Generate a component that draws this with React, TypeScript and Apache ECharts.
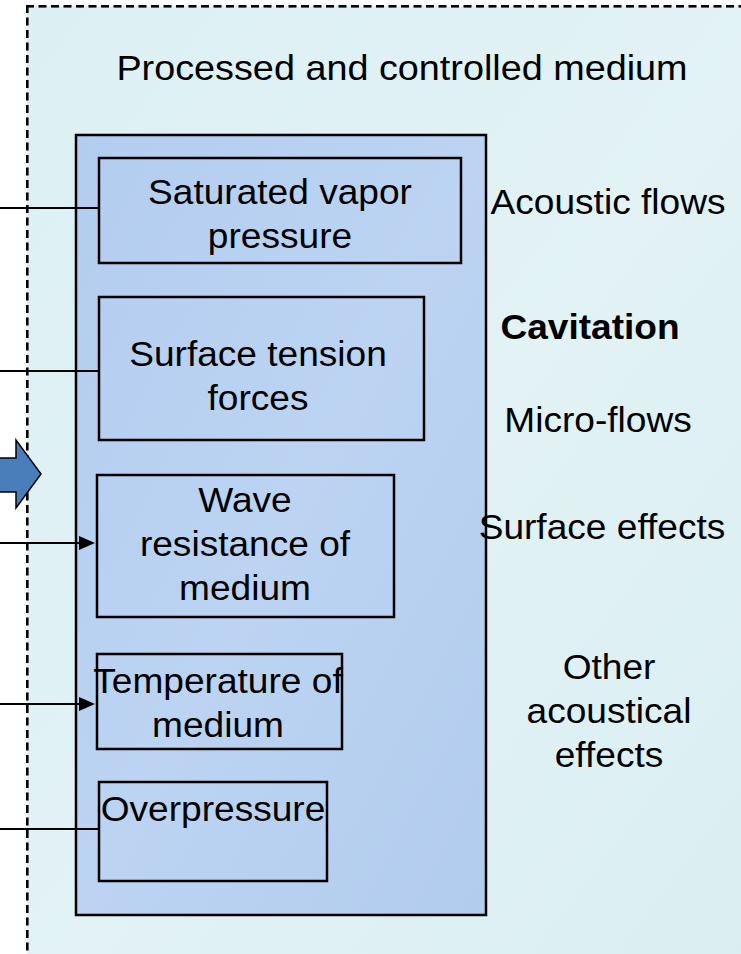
import React, { useEffect, useRef } from "react";
import * as echarts from "echarts";

// ---- content ----
const titleText = "Processed and controlled medium";
const factorLabels: string[][] = [
  ["Saturated vapor", "pressure"],
  ["Surface tension", "forces"],
  ["Wave", "resistance of", "medium"],
  ["Temperature of", "medium"],
  ["Overpressure"],
];
const factorHasArrow = [false, false, true, true, false];
const effectLabels: string[][] = [
  ["Acoustic flows"],
  ["Cavitation"],
  ["Micro-flows"],
  ["Surface effects"],
  ["Other", "acoustical", "effects"],
];
const effectBold = [false, true, false, false, false];

// ---- layout (pixels) ----
const boxRects = [
  [99, 158, 362, 105],
  [99, 297, 325, 143],
  [97, 475, 297, 142],
  [97, 654, 245, 95],
  [99, 782, 228, 99],
];
const boxTextX = [280, 258, 245, 218, 213];
const boxTextY = [192, 354, 500, 681, 809];
const connectorY = [208, 371, 543, 704, 829];
const effectX = [608, 590, 598, 602, 609];
const effectY = [202, 327, 420, 527, 667];
const LINE_H = 44;
const FONT = "'Liberation Sans', Arial, Helvetica, sans-serif";

function textEl(t: string, x: number, y: number, bold = false, sx = 1.06): any {
  return {
    type: "text",
    x,
    y,
    scaleX: sx,
    style: {
      text: t,
      fill: "#000",
      font: `${bold ? "bold " : ""}35px ${FONT}`,
      textAlign: "center",
      textVerticalAlign: "middle",
    },
    z: 10,
  };
}

export default function App() {
  const ref = useRef<HTMLDivElement>(null);
  useEffect(() => {
    if (!ref.current) return;
    const chart = echarts.init(ref.current, undefined, { renderer: "svg" });
    const els: any[] = [];

    // outer medium background
    els.push({
      type: "rect",
      shape: { x: 27, y: 6, width: 760, height: 1000 },
      style: {
        fill: new echarts.graphic.LinearGradient(0, 0, 1, 1, [
          { offset: 0, color: "#dcf0f4" },
          { offset: 0.5, color: "#e2f2f5" },
          { offset: 1, color: "#d9eef2" },
        ]),
      },
      z: 1,
    });
    // dashed border (top and left) drawn as dash segments
    const DASH = 8;
    const GAP = 4.5;
    for (let x = 26; x < 745; x += DASH + GAP) {
      els.push({
        type: "rect",
        shape: { x, y: 5, width: DASH, height: 2.6 },
        style: { fill: "#000" },
        z: 6,
      });
    }
    for (let y = 5; y < 960; y += DASH + GAP) {
      els.push({
        type: "rect",
        shape: { x: 26, y, width: 2.6, height: DASH },
        style: { fill: "#000" },
        z: 6,
      });
    }

    // title
    els.push(textEl(titleText, 402, 68, false, 1.08));

    // inner container
    els.push({
      type: "rect",
      shape: { x: 76, y: 135, width: 410, height: 780 },
      style: {
        fill: new echarts.graphic.LinearGradient(0, 0, 1, 1, [
          { offset: 0, color: "#b3cdf0" },
          { offset: 0.5, color: "#bcd4f2" },
          { offset: 1, color: "#b2ccee" },
        ]),
        stroke: "#000",
        lineWidth: 2.5,
      },
      z: 2,
    });

    // block arrow
    els.push({
      type: "polygon",
      shape: {
        points: [
          [-6, 458],
          [16, 458],
          [16, 440],
          [41, 474],
          [16, 508],
          [16, 492],
          [-6, 492],
        ],
      },
      style: { fill: "#4a7ebb", stroke: "#000", lineWidth: 1.5 },
      z: 7,
    });

    factorLabels.forEach((lines, i) => {
      const [bx, by, bw, bh] = boxRects[i];
      els.push({
        type: "rect",
        shape: { x: bx, y: by, width: bw, height: bh },
        style: { fill: "transparent", stroke: "#000", lineWidth: 2.5 },
        z: 4,
      });
      const cy = connectorY[i];
      const endX = factorHasArrow[i] ? bx - 14 : bx;
      els.push({
        type: "line",
        shape: { x1: -2, y1: cy, x2: endX, y2: cy },
        style: { stroke: "#000", lineWidth: 2 },
        z: 5,
      });
      if (factorHasArrow[i]) {
        els.push({
          type: "polygon",
          shape: {
            points: [
              [bx - 18, cy - 7],
              [bx - 2, cy],
              [bx - 18, cy + 7],
            ],
          },
          style: { fill: "#000" },
          z: 5,
        });
      }
      lines.forEach((t, j) => {
        els.push(textEl(t, boxTextX[i], boxTextY[i] + j * LINE_H));
      });
    });

    effectLabels.forEach((lines, i) => {
      lines.forEach((t, j) => {
        els.push(textEl(t, effectX[i], effectY[i] + j * LINE_H, effectBold[i]));
      });
    });

    chart.setOption({
      animation: false,
      backgroundColor: "#ffffff",
      graphic: { elements: els },
    });
    return () => chart.dispose();
  }, []);

  return (
    <div
      ref={ref}
      style={{ position: "fixed", left: 0, top: 0, width: 741, height: 954 }}
    />
  );
}
